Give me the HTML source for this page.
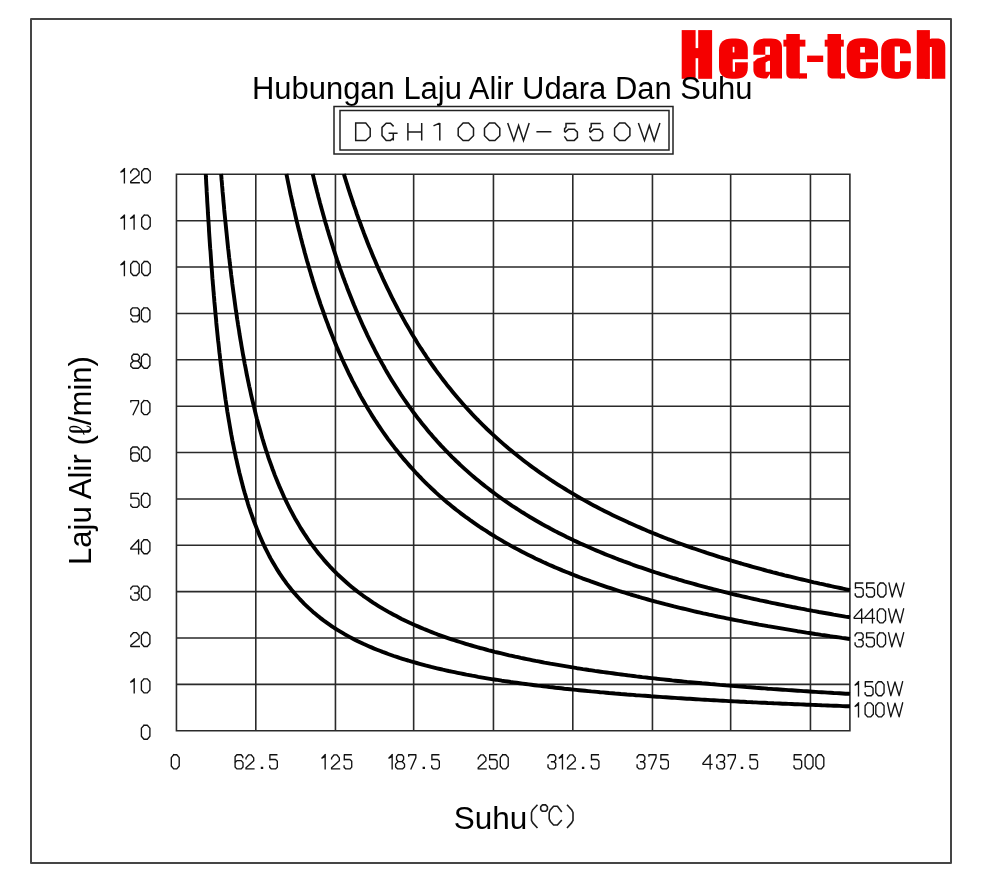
<!DOCTYPE html><html><head><meta charset="utf-8"><style>html,body{margin:0;padding:0;background:#fff;}svg{display:block;will-change:transform}</style></head><body><svg width="988" height="884" viewBox="0 0 988 884">
<rect width="988" height="884" fill="#fff"/>
<rect x="31" y="19" width="920" height="844" fill="none" stroke="#454545" stroke-width="2" stroke-linejoin="round"/>
<path d="M176.45,173.55V731.55M255.80,173.55V731.55M335.45,173.55V731.55M413.65,173.55V731.55M493.45,173.55V731.55M572.80,173.55V731.55M652.45,173.55V731.55M730.65,173.55V731.55M810.45,173.55V731.55M849.90,173.55V731.55M175.70,174.30H850.65M175.70,220.68H850.65M175.70,267.05H850.65M175.70,313.43H850.65M175.70,359.80H850.65M175.70,406.18H850.65M175.70,452.55H850.65M175.70,498.93H850.65M175.70,545.30H850.65M175.70,591.67H850.65M175.70,638.05H850.65M175.70,684.42H850.65M175.70,730.80H850.65" stroke="#2a2a2a" stroke-width="1.6" fill="none"/>
<g fill="none" stroke="#000" stroke-width="3.9" stroke-linejoin="round">
<path d="M205.8,174.0 L205.9,177.0 L206.1,180.0 L206.2,183.0 L206.4,185.9 L206.6,188.9 L206.7,191.9 L206.9,194.9 L207.1,197.9 L207.2,200.8 L207.4,203.8 L207.6,206.8 L207.8,209.8 L207.9,212.7 L208.1,215.7 L208.3,218.7 L208.5,221.7 L208.7,224.7 L208.9,227.6 L209.0,230.6 L209.2,233.6 L209.4,236.6 L209.6,239.5 L209.8,242.5 L210.0,245.5 L210.2,248.5 L210.5,251.4 L210.7,254.4 L210.9,257.4 L211.1,260.4 L211.3,263.3 L211.5,266.3 L211.8,269.3 L212.0,272.2 L212.2,275.2 L212.4,278.2 L212.7,281.2 L212.9,284.1 L213.2,287.1 L213.4,290.1 L213.7,293.0 L213.9,296.0 L214.2,299.0 L214.4,301.9 L214.7,304.9 L215.0,307.9 L215.2,310.8 L215.5,313.8 L215.8,316.8 L216.1,319.7 L216.3,322.7 L216.6,325.7 L216.9,328.6 L217.2,331.6 L217.5,334.6 L217.8,337.5 L218.1,340.5 L218.5,343.4 L218.8,346.4 L219.1,349.4 L219.4,352.3 L219.8,355.3 L220.1,358.2 L220.5,361.2 L220.8,364.1 L221.2,367.1 L221.5,370.1 L221.9,373.0 L222.3,376.0 L222.7,378.9 L223.1,381.9 L223.5,384.8 L223.9,387.8 L224.3,390.7 L224.7,393.6 L225.1,396.6 L225.5,399.5 L226.0,402.5 L226.4,405.4 L226.9,408.4 L227.3,411.3 L227.8,414.2 L228.3,417.2 L228.8,420.1 L229.3,423.0 L229.8,426.0 L230.3,428.9 L230.8,431.8 L231.3,434.7 L231.9,437.7 L232.4,440.6 L233.0,443.5 L233.6,446.4 L234.2,449.3 L234.8,452.2 L235.4,455.1 L236.0,458.0 L236.7,460.9 L237.3,463.8 L238.0,466.7 L238.7,469.6 L239.3,472.5 L240.1,475.4 L240.8,478.3 L241.5,481.1 L242.3,484.0 L243.0,486.9 L243.8,489.7 L244.6,492.6 L245.5,495.4 L246.3,498.3 L247.2,501.1 L248.0,504.0 L248.9,506.8 L249.9,509.6 L250.8,512.4 L251.8,515.2 L252.8,518.0 L253.8,520.8 L254.8,523.6 L255.9,526.3 L257.0,529.1 L258.1,531.8 L259.2,534.6 L260.4,537.3 L261.6,540.0 L262.8,542.7 L264.0,545.4 L265.3,548.1 L266.6,550.7 L268.0,553.4 L269.3,556.0 L270.7,558.6 L272.2,561.2 L273.7,563.8 L275.2,566.3 L276.7,568.9 L278.3,571.4 L279.9,573.9 L281.6,576.3 L283.3,578.8 L285.0,581.2 L286.7,583.6 L288.5,585.9 L290.4,588.3 L292.2,590.6 L294.2,592.9 L296.1,595.1 L298.1,597.3 L300.1,599.5 L302.2,601.6 L304.3,603.8 L306.4,605.8 L308.6,607.9 L310.8,609.9 L313.0,611.9 L315.3,613.8 L317.6,615.7 L319.9,617.6 L322.2,619.4 L324.6,621.2 L327.0,622.9 L329.5,624.6 L331.9,626.3 L334.4,628.0 L337.0,629.6 L339.5,631.1 L342.1,632.7 L344.6,634.2 L347.2,635.6 L349.9,637.1 L352.5,638.5 L355.2,639.9 L357.8,641.2 L360.5,642.5 L363.2,643.8 L366.0,645.0 L368.7,646.2 L371.4,647.4 L374.2,648.6 L377.0,649.7 L379.8,650.8 L382.6,651.9 L385.4,652.9 L388.2,654.0 L391.0,655.0 L393.8,656.0 L396.7,656.9 L399.5,657.9 L402.4,658.8 L405.2,659.7 L408.1,660.5 L411.0,661.4 L413.8,662.2 L416.7,663.0 L419.6,663.8 L422.5,664.6 L425.4,665.4 L428.3,666.1 L431.2,666.9 L434.1,667.6 L437.0,668.3 L440.0,669.0 L442.9,669.7 L445.8,670.3 L448.7,671.0 L451.7,671.6 L454.6,672.2 L457.5,672.8 L460.5,673.4 L463.4,674.0 L466.4,674.6 L469.3,675.1 L472.2,675.7 L475.2,676.2 L478.2,676.8 L481.1,677.3 L484.1,677.8 L487.0,678.3 L490.0,678.8 L492.9,679.3 L495.9,679.7 L498.9,680.2 L501.8,680.7 L504.8,681.1 L507.8,681.5 L510.7,682.0 L513.7,682.4 L516.7,682.8 L519.6,683.2 L522.6,683.6 L525.6,684.0 L528.6,684.4 L531.5,684.8 L534.5,685.2 L537.5,685.6 L540.5,685.9 L543.4,686.3 L546.4,686.6 L549.4,687.0 L552.4,687.3 L555.4,687.7 L558.3,688.0 L561.3,688.3 L564.3,688.7 L567.3,689.0 L570.3,689.3 L573.3,689.6 L576.2,689.9 L579.2,690.2 L582.2,690.5 L585.2,690.8 L588.2,691.1 L591.2,691.4 L594.2,691.6 L597.1,691.9 L600.1,692.2 L603.1,692.4 L606.1,692.7 L609.1,693.0 L612.1,693.2 L615.1,693.5 L618.1,693.7 L621.0,694.0 L624.0,694.2 L627.0,694.5 L630.0,694.7 L633.0,694.9 L636.0,695.2 L639.0,695.4 L642.0,695.6 L645.0,695.8 L648.0,696.0 L651.0,696.3 L654.0,696.5 L656.9,696.7 L659.9,696.9 L662.9,697.1 L665.9,697.3 L668.9,697.5 L671.9,697.7 L674.9,697.9 L677.9,698.1 L680.9,698.3 L683.9,698.5 L686.9,698.7 L689.9,698.8 L692.9,699.0 L695.9,699.2 L698.9,699.4 L701.9,699.6 L704.8,699.7 L707.8,699.9 L710.8,700.1 L713.8,700.2 L716.8,700.4 L719.8,700.6 L722.8,700.7 L725.8,700.9 L728.8,701.1 L731.8,701.2 L734.8,701.4 L737.8,701.5 L740.8,701.7 L743.8,701.8 L746.8,702.0 L749.8,702.1 L752.8,702.3 L755.8,702.4 L758.8,702.6 L761.8,702.7 L764.8,702.8 L767.8,703.0 L770.8,703.1 L773.8,703.3 L776.8,703.4 L779.7,703.5 L782.7,703.7 L785.7,703.8 L788.7,703.9 L791.7,704.0 L794.7,704.2 L797.7,704.3 L800.7,704.4 L803.7,704.5 L806.7,704.7 L809.7,704.8 L812.7,704.9 L815.7,705.0 L818.7,705.1 L821.7,705.3 L824.7,705.4 L827.7,705.5 L830.7,705.6 L833.7,705.7 L836.7,705.8 L839.7,705.9 L842.7,706.1 L845.7,706.2 L848.7,706.3 L850.0,706.3"/>
<path d="M221.1,174.0 L221.4,177.0 L221.6,180.0 L221.9,182.9 L222.1,185.9 L222.4,188.9 L222.6,191.9 L222.9,194.8 L223.2,197.8 L223.4,200.8 L223.7,203.7 L224.0,206.7 L224.2,209.7 L224.5,212.7 L224.8,215.6 L225.1,218.6 L225.4,221.6 L225.7,224.5 L226.0,227.5 L226.3,230.5 L226.6,233.4 L226.9,236.4 L227.2,239.4 L227.5,242.3 L227.8,245.3 L228.1,248.3 L228.5,251.2 L228.8,254.2 L229.1,257.2 L229.5,260.1 L229.8,263.1 L230.2,266.0 L230.5,269.0 L230.9,272.0 L231.2,274.9 L231.6,277.9 L232.0,280.8 L232.3,283.8 L232.7,286.7 L233.1,289.7 L233.5,292.7 L233.9,295.6 L234.3,298.6 L234.7,301.5 L235.1,304.5 L235.5,307.4 L235.9,310.4 L236.4,313.3 L236.8,316.3 L237.2,319.2 L237.7,322.2 L238.1,325.1 L238.6,328.0 L239.1,331.0 L239.5,333.9 L240.0,336.9 L240.5,339.8 L241.0,342.7 L241.5,345.7 L242.0,348.6 L242.5,351.5 L243.0,354.5 L243.6,357.4 L244.1,360.3 L244.6,363.3 L245.2,366.2 L245.8,369.1 L246.3,372.0 L246.9,375.0 L247.5,377.9 L248.1,380.8 L248.7,383.7 L249.3,386.6 L250.0,389.5 L250.6,392.4 L251.2,395.3 L251.9,398.2 L252.6,401.1 L253.3,404.0 L254.0,406.9 L254.7,409.8 L255.4,412.7 L256.1,415.6 L256.8,418.5 L257.6,421.3 L258.4,424.2 L259.2,427.1 L260.0,429.9 L260.8,432.8 L261.6,435.7 L262.4,438.5 L263.3,441.4 L264.1,444.2 L265.0,447.0 L265.9,449.9 L266.9,452.7 L267.8,455.5 L268.7,458.3 L269.7,461.1 L270.7,463.9 L271.7,466.7 L272.7,469.5 L273.8,472.3 L274.8,475.1 L275.9,477.9 L277.0,480.6 L278.2,483.4 L279.3,486.1 L280.5,488.8 L281.7,491.6 L282.9,494.3 L284.1,497.0 L285.4,499.7 L286.7,502.3 L288.0,505.0 L289.3,507.7 L290.7,510.3 L292.1,512.9 L293.5,515.6 L294.9,518.2 L296.4,520.7 L297.9,523.3 L299.4,525.9 L300.9,528.4 L302.5,530.9 L304.1,533.4 L305.8,535.9 L307.4,538.4 L309.1,540.8 L310.8,543.3 L312.6,545.7 L314.4,548.0 L316.2,550.4 L318.0,552.7 L319.9,555.1 L321.8,557.3 L323.7,559.6 L325.7,561.9 L327.7,564.1 L329.7,566.3 L331.7,568.4 L333.8,570.6 L335.9,572.7 L338.0,574.8 L340.2,576.8 L342.4,578.8 L344.6,580.8 L346.8,582.8 L349.1,584.8 L351.4,586.7 L353.7,588.6 L356.0,590.4 L358.4,592.2 L360.8,594.0 L363.2,595.8 L365.6,597.5 L368.1,599.2 L370.5,600.9 L373.0,602.6 L375.5,604.2 L378.1,605.8 L380.6,607.3 L383.2,608.9 L385.8,610.4 L388.4,611.9 L391.0,613.3 L393.6,614.7 L396.3,616.1 L398.9,617.5 L401.6,618.9 L404.3,620.2 L407.0,621.5 L409.7,622.8 L412.4,624.0 L415.1,625.2 L417.9,626.4 L420.6,627.6 L423.4,628.8 L426.2,629.9 L428.9,631.0 L431.7,632.1 L434.5,633.2 L437.3,634.3 L440.1,635.3 L443.0,636.3 L445.8,637.3 L448.6,638.3 L451.5,639.3 L454.3,640.2 L457.1,641.1 L460.0,642.0 L462.9,642.9 L465.7,643.8 L468.6,644.7 L471.5,645.5 L474.4,646.3 L477.2,647.2 L480.1,648.0 L483.0,648.7 L485.9,649.5 L488.8,650.3 L491.7,651.0 L494.6,651.8 L497.5,652.5 L500.5,653.2 L503.4,653.9 L506.3,654.6 L509.2,655.3 L512.1,655.9 L515.1,656.6 L518.0,657.2 L520.9,657.9 L523.9,658.5 L526.8,659.1 L529.7,659.7 L532.7,660.3 L535.6,660.9 L538.6,661.4 L541.5,662.0 L544.4,662.6 L547.4,663.1 L550.3,663.7 L553.3,664.2 L556.3,664.7 L559.2,665.2 L562.2,665.7 L565.1,666.2 L568.1,666.7 L571.0,667.2 L574.0,667.7 L577.0,668.2 L579.9,668.6 L582.9,669.1 L585.9,669.5 L588.8,670.0 L591.8,670.4 L594.8,670.9 L597.7,671.3 L600.7,671.7 L603.7,672.1 L606.6,672.5 L609.6,672.9 L612.6,673.3 L615.6,673.7 L618.5,674.1 L621.5,674.5 L624.5,674.9 L627.5,675.3 L630.4,675.6 L633.4,676.0 L636.4,676.4 L639.4,676.7 L642.3,677.1 L645.3,677.4 L648.3,677.8 L651.3,678.1 L654.3,678.4 L657.2,678.8 L660.2,679.1 L663.2,679.4 L666.2,679.7 L669.2,680.0 L672.2,680.4 L675.1,680.7 L678.1,681.0 L681.1,681.3 L684.1,681.6 L687.1,681.9 L690.1,682.1 L693.1,682.4 L696.0,682.7 L699.0,683.0 L702.0,683.3 L705.0,683.5 L708.0,683.8 L711.0,684.1 L714.0,684.3 L717.0,684.6 L719.9,684.9 L722.9,685.1 L725.9,685.4 L728.9,685.6 L731.9,685.9 L734.9,686.1 L737.9,686.4 L740.9,686.6 L743.9,686.8 L746.9,687.1 L749.8,687.3 L752.8,687.5 L755.8,687.8 L758.8,688.0 L761.8,688.2 L764.8,688.4 L767.8,688.7 L770.8,688.9 L773.8,689.1 L776.8,689.3 L779.8,689.5 L782.8,689.7 L785.7,689.9 L788.7,690.1 L791.7,690.3 L794.7,690.5 L797.7,690.7 L800.7,690.9 L803.7,691.1 L806.7,691.3 L809.7,691.5 L812.7,691.7 L815.7,691.9 L818.7,692.1 L821.7,692.2 L824.7,692.4 L827.7,692.6 L830.7,692.8 L833.7,693.0 L836.6,693.1 L839.6,693.3 L842.6,693.5 L845.6,693.7 L848.6,693.8 L850.0,693.9"/>
<path d="M286.4,174.0 L287.0,176.9 L287.6,179.9 L288.2,182.8 L288.8,185.7 L289.4,188.6 L290.0,191.6 L290.6,194.5 L291.3,197.4 L291.9,200.3 L292.6,203.2 L293.2,206.1 L293.9,209.0 L294.6,211.9 L295.2,214.8 L295.9,217.8 L296.6,220.7 L297.3,223.6 L298.0,226.5 L298.7,229.4 L299.5,232.2 L300.2,235.1 L300.9,238.0 L301.7,240.9 L302.4,243.8 L303.2,246.7 L304.0,249.6 L304.7,252.5 L305.5,255.3 L306.3,258.2 L307.1,261.1 L308.0,263.9 L308.8,266.8 L309.6,269.7 L310.5,272.5 L311.3,275.4 L312.2,278.2 L313.0,281.1 L313.9,283.9 L314.8,286.8 L315.7,289.6 L316.6,292.5 L317.6,295.3 L318.5,298.1 L319.5,301.0 L320.4,303.8 L321.4,306.6 L322.4,309.4 L323.4,312.2 L324.4,315.0 L325.4,317.9 L326.4,320.6 L327.5,323.4 L328.5,326.2 L329.6,329.0 L330.7,331.8 L331.8,334.6 L332.9,337.3 L334.0,340.1 L335.1,342.9 L336.3,345.6 L337.4,348.4 L338.6,351.1 L339.8,353.8 L341.0,356.6 L342.2,359.3 L343.5,362.0 L344.7,364.7 L346.0,367.4 L347.3,370.1 L348.5,372.8 L349.9,375.5 L351.2,378.1 L352.5,380.8 L353.9,383.4 L355.3,386.1 L356.7,388.7 L358.1,391.4 L359.5,394.0 L360.9,396.6 L362.4,399.2 L363.9,401.8 L365.4,404.4 L366.9,406.9 L368.4,409.5 L370.0,412.0 L371.5,414.6 L373.1,417.1 L374.7,419.6 L376.4,422.1 L378.0,424.6 L379.7,427.1 L381.3,429.5 L383.0,432.0 L384.7,434.4 L386.5,436.9 L388.2,439.3 L390.0,441.7 L391.8,444.1 L393.6,446.4 L395.4,448.8 L397.3,451.1 L399.2,453.5 L401.0,455.8 L402.9,458.1 L404.9,460.4 L406.8,462.6 L408.8,464.9 L410.8,467.1 L412.8,469.3 L414.8,471.5 L416.8,473.7 L418.9,475.9 L421.0,478.0 L423.0,480.2 L425.2,482.3 L427.3,484.4 L429.4,486.4 L431.6,488.5 L433.8,490.5 L436.0,492.6 L438.2,494.6 L440.4,496.6 L442.7,498.5 L444.9,500.5 L447.2,502.4 L449.5,504.3 L451.8,506.2 L454.2,508.1 L456.5,510.0 L458.9,511.8 L461.2,513.6 L463.6,515.4 L466.0,517.2 L468.5,518.9 L470.9,520.7 L473.3,522.4 L475.8,524.1 L478.3,525.8 L480.7,527.5 L483.2,529.1 L485.8,530.7 L488.3,532.4 L490.8,534.0 L493.4,535.5 L495.9,537.1 L498.5,538.6 L501.1,540.1 L503.6,541.7 L506.2,543.1 L508.9,544.6 L511.5,546.1 L514.1,547.5 L516.7,548.9 L519.4,550.3 L522.0,551.7 L524.7,553.1 L527.4,554.4 L530.1,555.7 L532.8,557.1 L535.4,558.4 L538.2,559.7 L540.9,560.9 L543.6,562.2 L546.3,563.4 L549.0,564.7 L551.8,565.9 L554.5,567.1 L557.3,568.2 L560.0,569.4 L562.8,570.6 L565.6,571.7 L568.4,572.8 L571.1,573.9 L573.9,575.0 L576.7,576.1 L579.5,577.2 L582.3,578.3 L585.1,579.3 L588.0,580.3 L590.8,581.4 L593.6,582.4 L596.4,583.4 L599.2,584.4 L602.1,585.3 L604.9,586.3 L607.8,587.3 L610.6,588.2 L613.5,589.1 L616.3,590.0 L619.2,591.0 L622.0,591.9 L624.9,592.7 L627.8,593.6 L630.6,594.5 L633.5,595.3 L636.4,596.2 L639.3,597.0 L642.1,597.9 L645.0,598.7 L647.9,599.5 L650.8,600.3 L653.7,601.1 L656.6,601.9 L659.5,602.6 L662.4,603.4 L665.3,604.2 L668.2,604.9 L671.1,605.6 L674.0,606.4 L676.9,607.1 L679.8,607.8 L682.7,608.5 L685.7,609.2 L688.6,609.9 L691.5,610.6 L694.4,611.3 L697.3,612.0 L700.3,612.6 L703.2,613.3 L706.1,613.9 L709.1,614.6 L712.0,615.2 L714.9,615.8 L717.8,616.5 L720.8,617.1 L723.7,617.7 L726.7,618.3 L729.6,618.9 L732.5,619.5 L735.5,620.1 L738.4,620.7 L741.4,621.2 L744.3,621.8 L747.3,622.4 L750.2,622.9 L753.2,623.5 L756.1,624.0 L759.0,624.6 L762.0,625.1 L765.0,625.6 L767.9,626.2 L770.9,626.7 L773.8,627.2 L776.8,627.7 L779.7,628.2 L782.7,628.7 L785.6,629.2 L788.6,629.7 L791.6,630.2 L794.5,630.7 L797.5,631.2 L800.4,631.6 L803.4,632.1 L806.4,632.6 L809.3,633.0 L812.3,633.5 L815.3,634.0 L818.2,634.4 L821.2,634.9 L824.2,635.3 L827.1,635.7 L830.1,636.2 L833.1,636.6 L836.0,637.0 L839.0,637.4 L842.0,637.9 L844.9,638.3 L847.9,638.7 L850.0,639.0"/>
<path d="M312.7,174.0 L313.4,176.9 L314.1,179.8 L314.8,182.7 L315.5,185.6 L316.3,188.5 L317.0,191.4 L317.8,194.3 L318.5,197.2 L319.3,200.1 L320.0,202.9 L320.8,205.8 L321.6,208.7 L322.4,211.6 L323.2,214.5 L324.0,217.3 L324.8,220.2 L325.6,223.1 L326.5,225.9 L327.3,228.8 L328.2,231.7 L329.0,234.5 L329.9,237.4 L330.8,240.2 L331.7,243.1 L332.6,245.9 L333.5,248.8 L334.4,251.6 L335.3,254.4 L336.3,257.3 L337.2,260.1 L338.2,262.9 L339.2,265.7 L340.1,268.6 L341.1,271.4 L342.1,274.2 L343.1,277.0 L344.2,279.8 L345.2,282.6 L346.3,285.4 L347.3,288.2 L348.4,291.0 L349.5,293.7 L350.6,296.5 L351.7,299.3 L352.8,302.0 L353.9,304.8 L355.1,307.6 L356.2,310.3 L357.4,313.1 L358.6,315.8 L359.8,318.5 L361.0,321.3 L362.2,324.0 L363.4,326.7 L364.7,329.4 L366.0,332.1 L367.2,334.8 L368.5,337.5 L369.8,340.2 L371.2,342.8 L372.5,345.5 L373.9,348.2 L375.2,350.8 L376.6,353.5 L378.0,356.1 L379.4,358.7 L380.9,361.3 L382.3,363.9 L383.8,366.5 L385.2,369.1 L386.7,371.7 L388.2,374.3 L389.8,376.9 L391.3,379.4 L392.9,382.0 L394.5,384.5 L396.1,387.0 L397.7,389.5 L399.3,392.0 L400.9,394.5 L402.6,397.0 L404.3,399.5 L406.0,401.9 L407.7,404.4 L409.4,406.8 L411.2,409.2 L412.9,411.6 L414.7,414.0 L416.5,416.4 L418.3,418.8 L420.2,421.1 L422.0,423.5 L423.9,425.8 L425.8,428.1 L427.7,430.4 L429.6,432.7 L431.6,434.9 L433.5,437.2 L435.5,439.4 L437.5,441.7 L439.5,443.9 L441.5,446.1 L443.6,448.2 L445.6,450.4 L447.7,452.5 L449.8,454.7 L451.9,456.8 L454.1,458.9 L456.2,461.0 L458.4,463.0 L460.5,465.1 L462.7,467.1 L464.9,469.1 L467.2,471.1 L469.4,473.1 L471.7,475.1 L473.9,477.0 L476.2,478.9 L478.5,480.8 L480.8,482.7 L483.2,484.6 L485.5,486.5 L487.9,488.3 L490.2,490.1 L492.6,491.9 L495.0,493.7 L497.4,495.5 L499.9,497.3 L502.3,499.0 L504.7,500.7 L507.2,502.4 L509.7,504.1 L512.2,505.8 L514.7,507.4 L517.2,509.0 L519.7,510.7 L522.2,512.3 L524.8,513.8 L527.3,515.4 L529.9,517.0 L532.5,518.5 L535.0,520.0 L537.6,521.5 L540.2,523.0 L542.8,524.5 L545.5,525.9 L548.1,527.3 L550.7,528.8 L553.4,530.2 L556.0,531.6 L558.7,532.9 L561.4,534.3 L564.0,535.6 L566.7,537.0 L569.4,538.3 L572.1,539.6 L574.8,540.9 L577.5,542.1 L580.3,543.4 L583.0,544.6 L585.7,545.8 L588.5,547.1 L591.2,548.3 L594.0,549.5 L596.7,550.6 L599.5,551.8 L602.2,552.9 L605.0,554.1 L607.8,555.2 L610.6,556.3 L613.4,557.4 L616.2,558.5 L619.0,559.6 L621.8,560.6 L624.6,561.7 L627.4,562.7 L630.2,563.7 L633.0,564.8 L635.8,565.8 L638.7,566.8 L641.5,567.7 L644.3,568.7 L647.2,569.7 L650.0,570.6 L652.9,571.6 L655.7,572.5 L658.6,573.4 L661.4,574.3 L664.3,575.2 L667.2,576.1 L670.0,577.0 L672.9,577.9 L675.8,578.7 L678.6,579.6 L681.5,580.4 L684.4,581.3 L687.3,582.1 L690.2,582.9 L693.0,583.7 L695.9,584.5 L698.8,585.3 L701.7,586.1 L704.6,586.9 L707.5,587.7 L710.4,588.4 L713.3,589.2 L716.2,589.9 L719.1,590.7 L722.0,591.4 L724.9,592.1 L727.9,592.8 L730.8,593.6 L733.7,594.3 L736.6,595.0 L739.5,595.6 L742.4,596.3 L745.4,597.0 L748.3,597.7 L751.2,598.3 L754.1,599.0 L757.1,599.6 L760.0,600.3 L762.9,600.9 L765.9,601.5 L768.8,602.2 L771.7,602.8 L774.7,603.4 L777.6,604.0 L780.5,604.6 L783.5,605.2 L786.4,605.8 L789.4,606.4 L792.3,607.0 L795.3,607.5 L798.2,608.1 L801.1,608.7 L804.1,609.2 L807.0,609.8 L810.0,610.3 L812.9,610.9 L815.9,611.4 L818.8,612.0 L821.8,612.5 L824.7,613.0 L827.7,613.5 L830.7,614.0 L833.6,614.6 L836.6,615.1 L839.5,615.6 L842.5,616.1 L845.4,616.6 L848.4,617.0 L850.0,617.3"/>
<path d="M343.9,174.0 L344.7,176.9 L345.6,179.7 L346.5,182.6 L347.4,185.4 L348.3,188.3 L349.2,191.1 L350.1,194.0 L351.1,196.8 L352.0,199.6 L353.0,202.5 L353.9,205.3 L354.9,208.1 L355.9,210.9 L356.8,213.8 L357.8,216.6 L358.8,219.4 L359.9,222.2 L360.9,225.0 L361.9,227.8 L363.0,230.6 L364.0,233.4 L365.1,236.2 L366.2,239.0 L367.2,241.7 L368.3,244.5 L369.4,247.3 L370.6,250.0 L371.7,252.8 L372.8,255.6 L374.0,258.3 L375.2,261.1 L376.3,263.8 L377.5,266.6 L378.7,269.3 L379.9,272.0 L381.2,274.7 L382.4,277.5 L383.6,280.2 L384.9,282.9 L386.2,285.6 L387.5,288.3 L388.8,290.9 L390.1,293.6 L391.4,296.3 L392.7,299.0 L394.1,301.6 L395.5,304.3 L396.8,306.9 L398.2,309.6 L399.6,312.2 L401.1,314.8 L402.5,317.4 L404.0,320.1 L405.4,322.7 L406.9,325.3 L408.4,327.8 L409.9,330.4 L411.4,333.0 L412.9,335.5 L414.5,338.1 L416.1,340.6 L417.6,343.2 L419.2,345.7 L420.8,348.2 L422.5,350.7 L424.1,353.2 L425.8,355.7 L427.4,358.2 L429.1,360.6 L430.8,363.1 L432.5,365.5 L434.3,368.0 L436.0,370.4 L437.8,372.8 L439.6,375.2 L441.4,377.6 L443.2,380.0 L445.0,382.3 L446.8,384.7 L448.7,387.0 L450.6,389.3 L452.5,391.7 L454.4,394.0 L456.3,396.3 L458.2,398.5 L460.2,400.8 L462.1,403.0 L464.1,405.3 L466.1,407.5 L468.1,409.7 L470.2,411.9 L472.2,414.1 L474.3,416.3 L476.3,418.4 L478.4,420.5 L480.5,422.7 L482.7,424.8 L484.8,426.9 L486.9,429.0 L489.1,431.0 L491.3,433.1 L493.5,435.1 L495.7,437.1 L497.9,439.1 L500.1,441.1 L502.4,443.1 L504.6,445.1 L506.9,447.0 L509.2,448.9 L511.5,450.8 L513.8,452.7 L516.1,454.6 L518.5,456.5 L520.8,458.3 L523.2,460.2 L525.5,462.0 L527.9,463.8 L530.3,465.6 L532.7,467.4 L535.2,469.1 L537.6,470.9 L540.0,472.6 L542.5,474.3 L545.0,476.0 L547.4,477.7 L549.9,479.3 L552.4,481.0 L554.9,482.6 L557.5,484.3 L560.0,485.9 L562.5,487.4 L565.1,489.0 L567.6,490.6 L570.2,492.1 L572.8,493.7 L575.3,495.2 L577.9,496.7 L580.5,498.2 L583.1,499.6 L585.8,501.1 L588.4,502.5 L591.0,504.0 L593.7,505.4 L596.3,506.8 L599.0,508.2 L601.6,509.6 L604.3,510.9 L607.0,512.3 L609.6,513.6 L612.3,514.9 L615.0,516.2 L617.7,517.5 L620.4,518.8 L623.2,520.1 L625.9,521.3 L628.6,522.6 L631.3,523.8 L634.1,525.0 L636.8,526.2 L639.6,527.4 L642.3,528.6 L645.1,529.8 L647.8,531.0 L650.6,532.1 L653.4,533.2 L656.2,534.4 L658.9,535.5 L661.7,536.6 L664.5,537.7 L667.3,538.8 L670.1,539.8 L672.9,540.9 L675.7,542.0 L678.5,543.0 L681.3,544.0 L684.2,545.1 L687.0,546.1 L689.8,547.1 L692.6,548.1 L695.5,549.0 L698.3,550.0 L701.2,551.0 L704.0,551.9 L706.8,552.9 L709.7,553.8 L712.5,554.7 L715.4,555.6 L718.3,556.6 L721.1,557.5 L724.0,558.3 L726.8,559.2 L729.7,560.1 L732.6,561.0 L735.5,561.8 L738.3,562.7 L741.2,563.5 L744.1,564.4 L747.0,565.2 L749.9,566.0 L752.7,566.8 L755.6,567.6 L758.5,568.4 L761.4,569.2 L764.3,570.0 L767.2,570.8 L770.1,571.5 L773.0,572.3 L775.9,573.0 L778.8,573.8 L781.7,574.5 L784.6,575.3 L787.5,576.0 L790.5,576.7 L793.4,577.4 L796.3,578.1 L799.2,578.8 L802.1,579.5 L805.0,580.2 L808.0,580.9 L810.9,581.6 L813.8,582.3 L816.7,582.9 L819.6,583.6 L822.6,584.2 L825.5,584.9 L828.4,585.5 L831.4,586.2 L834.3,586.8 L837.2,587.4 L840.2,588.0 L843.1,588.7 L846.0,589.3 L849.0,589.9 L850.0,590.1"/>
</g>
<g fill="#f50000"><rect x="681.7" y="30.1" width="13.9" height="48.7"/><rect x="698.2" y="30.1" width="13.9" height="48.7"/><rect x="695" y="48.1" width="4.0" height="10.1"/><path d="M732.0,38.4 H735.8 C743.7,38.4 747.8,42.1 747.8,49.4 V67.7 C747.8,75.0 743.7,78.7 735.8,78.7 H732.0 C723.4,78.7 719,74.6 719,66.7 V50.4 C719,42.5 723.4,38.4 732.0,38.4Z"/><path d="M766.4,38.4 H771.0 C778.3,38.4 782,41.5 782,47.4 V78.6 H764.4 C757.1,78.6 753.4,75.5 753.4,69.6 V49.4 C753.4,42.1 757.8,38.4 766.4,38.4Z"/><path d="M786.3,34.1 H799.8 V78.6 H792.3 C788.0,78.6 786.3,76.9 786.3,72.6 V34.1Z"/><rect x="783.4" y="39.7" width="22.0" height="6.9"/><rect x="799" y="73.3" width="8.0" height="5.3"/><rect x="807.1" y="55.6" width="16.1" height="6.4"/><path d="M827.5,34.1 H841.0 V78.6 H833.5 C829.2,78.6 827.5,76.9 827.5,72.6 V34.1Z"/><rect x="824.7" y="39.7" width="19.1" height="6.9"/><rect x="840" y="73.3" width="5.1" height="5.3"/><path d="M860.7,38.3 H865.0 C873.6,38.3 878,42.0 878,49.3 V67.6 C878,74.9 873.6,78.6 865.0,78.6 H860.7 C851.5,78.6 846.7,74.5 846.7,66.6 V50.3 C846.7,42.4 851.5,38.3 860.7,38.3Z"/><path d="M895.2,38.4 H897.8 C906.4,38.4 910.8,42.1 910.8,49.4 V67.8 C910.8,75.1 906.4,78.8 897.8,78.8 H895.2 C886.0,78.8 881.2,74.7 881.2,66.8 V50.4 C881.2,42.5 886.0,38.4 895.2,38.4Z"/><rect x="916.8" y="30.1" width="13.1" height="48.7"/><path d="M934.0,38.4 H936.3 C942.8,38.4 945.3,40.9 945.3,47.4 V78.8 H925.0 V46.4 C925,40.6 927.5,38.4 934.0,38.4Z"/></g>
<g fill="#fff"><rect x="732.7" y="46.8" width="1.7" height="5.6"/><path d="M732.7,59.2 H735.0 V70.7 C735.0,71.4 734.7,71.7 734.0,71.7 H733.7 C733.0,71.7 732.7,71.4 732.7,70.7 V59.2Z"/><rect x="734.9" y="59.2" width="14.1" height="3.1"/><rect x="860.2" y="46.9" width="4.7" height="5.7"/><path d="M860.2,59.2 H865.8 V70.5 C865.8,71.6 865.4,72 864.3,72 H861.7 C860.6,72 860.2,71.6 860.2,70.5 V59.2Z"/><rect x="865.7" y="59.2" width="13.8" height="3.3"/><rect x="765.3" y="46.6" width="4.7" height="8.2"/><path d="M752,54.8 L765.3,54.8 L765.3,56.3 L757.4,58.5 L754.3,61.4 L752,61.4Z"/><path d="M765.6,62.5 L768.5,60.7 L770,60.7 L770,71.7 L765.6,71.7Z"/><path d="M766.2,79.5 L770,73.9 L770,79.5Z"/><path d="M894.7,46.6 H900.0 V70.1 C900,71.5 899.4,72.1 898.0,72.1 H896.7 C895.3,72.1 894.7,71.5 894.7,70.1 V46.6Z"/><rect x="899.9" y="53.3" width="12.1" height="7.9"/><rect x="929.9" y="47" width="1.9" height="33.0"/></g>
<text x="252" y="99" font-family="Liberation Sans" font-size="31" textLength="500.5" lengthAdjust="spacingAndGlyphs" fill="#000">Hubungan Laju Alir Udara Dan Suhu</text>
<text transform="translate(91.2,565) rotate(-90)" x="0" y="0" font-family="Liberation Sans" font-size="31" textLength="209" lengthAdjust="spacingAndGlyphs" fill="#000">Laju Alir (ℓ/min)</text>
<text x="453.7" y="828.9" font-family="Liberation Sans" font-size="31" textLength="73.6" lengthAdjust="spacingAndGlyphs" fill="#000">Suhu</text>
<path d="M537.5,804.8 L532.8,809.7 L531.5,812.5 V820.4 L532.8,822.9 L537.5,828 M567,804.8 L571.6,809.7 L573,812.5 V820.4 L571.6,822.9 L567,828 M561.8,811.9 L557.4,806.2 H553.6 L550.3,810 L549.2,812.8 V818.8 L550.6,821.8 L553.6,825 H557.4 L561.8,819.9 M542.5,804.9 H545.6 L547.4,806.7 V809.6 L545.6,811.3 H542.5 L540.7,809.6 V806.7 Z" fill="none" stroke="#1c1c1c" stroke-width="1.6" stroke-linejoin="round"/>
<rect x="334" y="106.5" width="339" height="47.5" fill="none" stroke="#222" stroke-width="1.5"/>
<rect x="340" y="110.5" width="329" height="39.5" fill="none" stroke="#222" stroke-width="1.5"/>
<path d="M355.7,123.1 H365.8 L370.2,128.4 V136.5 L365.8,140.5 H355.7 Z M393.6,126.4 L390.5,123.3 H386.2 L382,127.4 V135.6 L386.2,140.4 H390.5 L393.3,138 M388.6,133.3 H397.6 M393.3,133.3 V140.6 M407.9,123.1 V140.5 M421.7,123.1 V140.5 M407.9,132 H421.7 M433.5,125.9 L439.6,123.1 M439.8,123.1 V140.5 M463.1,123.1 H468.6 L473.5,128.3 V135.8 L468.6,140.6 H463.1 L458.2,135.8 V128.3 Z M489.4,123.1 H494.9 L499.8,128.3 V135.8 L494.9,140.6 H489.4 L484.5,135.8 V128.3 Z M507.7,123.1 L513.8,140.5 L518.6,125.4 L523.5,140.5 L529.2,123.1 M536.4,131.8 H551.4 M575.6,123.4 H566.0 V127.2 L564.6,128.6 V131.6 L565.4,132 L568.5,129.2 H574.3 L577.4,132.1 V137.4 L574.3,140.4 H567.2 L564.4,136.4  M600.8,123.4 H591.2 V127.2 L589.8,128.6 V131.6 L590.6,132 L593.7,129.2 H599.5 L602.6,132.1 V137.4 L599.5,140.4 H592.4 L589.6,136.4  M619.5,123.1 H625.0 L629.9,128.3 V135.8 L625.0,140.6 H619.5 L614.6,135.8 V128.3 Z M638.4,123.1 L644.5,140.5 L649.3,125.4 L654.2,140.5 L659.9,123.1" fill="none" stroke="#1a1a1a" stroke-width="1.5" stroke-linejoin="miter"/>
<path d="M173.72,754.70 L176.79,754.70 L179.20,757.64 L179.20,765.96 L176.79,768.90 L173.72,768.90 L171.30,765.96 L171.30,757.64 L173.72,754.70 M242.82,757.64 L242.82,756.76 L241.14,754.70 L236.87,754.70 L235.10,756.76 L235.10,766.94 L236.87,768.90 L241.24,768.90 L243.00,766.94 L243.00,762.63 L241.24,760.67 L236.87,760.67 L235.10,762.63 M246.00,758.81 L246.00,757.83 L248.60,754.80 L251.12,754.80 L253.72,757.83 L253.72,760.77 L246.00,767.63 L246.00,768.90 L253.91,768.90 M276.77,754.70 L269.89,754.70 L269.89,759.89 M269.89,759.50 L275.56,759.50 L277.33,761.26 L277.33,767.14 L275.56,768.90 L271.37,768.90 L269.70,767.24 L269.70,765.86 M322.00,758.03 L325.16,754.80 M325.16,754.70 L325.16,768.90 M331.60,758.81 L331.60,757.83 L334.20,754.80 L336.71,754.80 L339.32,757.83 L339.32,760.77 L331.60,767.63 L331.60,768.90 L339.50,768.90 M351.17,754.70 L344.29,754.70 L344.29,759.89 M344.29,759.50 L349.96,759.50 L351.73,761.26 L351.73,767.14 L349.96,768.90 L345.77,768.90 L344.10,767.24 L344.10,765.86 M389.00,758.03 L392.16,754.80 M392.16,754.70 L392.16,768.90 M398.20,754.70 L401.92,754.70 L403.60,756.66 L403.60,759.50 L401.92,761.56 L398.20,761.56 L396.53,759.50 L396.53,756.66 L398.20,754.70 M398.02,761.56 L402.11,761.56 L404.53,764.10 L404.53,766.94 L402.48,768.90 L397.65,768.90 L395.60,766.94 L395.60,764.10 L398.02,761.56 M408.70,756.07 L408.70,754.70 L415.86,754.70 L415.86,757.64 L410.93,768.90 M438.77,754.70 L431.89,754.70 L431.89,759.89 M431.89,759.50 L437.56,759.50 L439.33,761.26 L439.33,767.14 L437.56,768.90 L433.37,768.90 L431.70,767.24 L431.70,765.86 M478.20,758.81 L478.20,757.83 L480.80,754.80 L483.31,754.80 L485.92,757.83 L485.92,760.77 L478.20,767.63 L478.20,768.90 L486.10,768.90 M496.57,754.70 L489.69,754.70 L489.69,759.89 M489.69,759.50 L495.36,759.50 L497.13,761.26 L497.13,767.14 L495.36,768.90 L491.17,768.90 L489.50,767.24 L489.50,765.86 M502.72,754.70 L505.79,754.70 L508.20,757.64 L508.20,765.96 L505.79,768.90 L502.72,768.90 L500.30,765.96 L500.30,757.64 L502.72,754.70 M548.00,757.83 L548.00,756.95 L549.86,754.70 L554.04,754.70 L555.72,756.66 L555.72,759.79 L554.04,761.75 L551.53,761.75 M554.04,761.75 L555.72,763.51 L555.72,766.94 L554.04,768.90 L549.86,768.90 L548.00,766.94 L548.00,764.98 M559.30,758.03 L562.46,754.80 M562.46,754.70 L562.46,768.90 M567.50,758.81 L567.50,757.83 L570.10,754.80 L572.62,754.80 L575.22,757.83 L575.22,760.77 L567.50,767.63 L567.50,768.90 L575.40,768.90 M598.37,754.70 L591.49,754.70 L591.49,759.89 M591.49,759.50 L597.16,759.50 L598.93,761.26 L598.93,767.14 L597.16,768.90 L592.97,768.90 L591.30,767.24 L591.30,765.86 M637.10,757.83 L637.10,756.95 L638.96,754.70 L643.14,754.70 L644.82,756.66 L644.82,759.79 L643.14,761.75 L640.63,761.75 M643.14,761.75 L644.82,763.51 L644.82,766.94 L643.14,768.90 L638.96,768.90 L637.10,766.94 L637.10,764.98 M648.90,756.07 L648.90,754.70 L656.06,754.70 L656.06,757.64 L651.13,768.90 M667.77,754.70 L660.89,754.70 L660.89,759.89 M660.89,759.50 L666.56,759.50 L668.33,761.26 L668.33,767.14 L666.56,768.90 L662.37,768.90 L660.70,767.24 L660.70,765.86 M710.15,768.90 L710.15,754.70 L702.90,763.32 L702.90,764.30 L711.92,764.30 M716.80,757.83 L716.80,756.95 L718.66,754.70 L722.85,754.70 L724.52,756.66 L724.52,759.79 L722.85,761.75 L720.33,761.75 M722.85,761.75 L724.52,763.51 L724.52,766.94 L722.85,768.90 L718.66,768.90 L716.80,766.94 L716.80,764.98 M728.20,756.07 L728.20,754.70 L735.36,754.70 L735.36,757.64 L730.43,768.90 M756.97,754.70 L750.09,754.70 L750.09,759.89 M750.09,759.50 L755.76,759.50 L757.53,761.26 L757.53,767.14 L755.76,768.90 L751.57,768.90 L749.90,767.24 L749.90,765.86 M801.07,754.70 L794.19,754.70 L794.19,759.89 M794.19,759.50 L799.86,759.50 L801.63,761.26 L801.63,767.14 L799.86,768.90 L795.67,768.90 L794.00,767.24 L794.00,765.86 M807.52,754.70 L810.59,754.70 L813.00,757.64 L813.00,765.96 L810.59,768.90 L807.52,768.90 L805.10,765.96 L805.10,757.64 L807.52,754.70 M818.32,754.70 L821.39,754.70 L823.81,757.64 L823.81,765.96 L821.39,768.90 L818.32,768.90 L815.90,765.96 L815.90,757.64 L818.32,754.70 M121.00,171.98 L124.40,168.80 M124.40,168.70 L124.40,182.70 M130.70,172.76 L130.70,171.79 L133.50,168.80 L136.20,168.80 L139.00,171.79 L139.00,174.69 L130.70,181.44 L130.70,182.70 L139.20,182.70 M144.30,168.70 L147.60,168.70 L150.20,171.60 L150.20,179.80 L147.60,182.70 L144.30,182.70 L141.70,179.80 L141.70,171.60 L144.30,168.70 M121.00,218.36 L124.40,215.17 M124.40,215.07 L124.40,229.07 M130.70,218.36 L134.10,215.17 M134.10,215.07 L134.10,229.07 M144.30,215.07 L147.60,215.07 L150.20,217.97 L150.20,226.18 L147.60,229.07 L144.30,229.07 L141.70,226.18 L141.70,217.97 L144.30,215.07 M121.00,264.73 L124.40,261.55 M124.40,261.45 L124.40,275.45 M133.30,261.45 L136.60,261.45 L139.20,264.35 L139.20,272.55 L136.60,275.45 L133.30,275.45 L130.70,272.55 L130.70,264.35 L133.30,261.45 M144.30,261.45 L147.60,261.45 L150.20,264.35 L150.20,272.55 L147.60,275.45 L144.30,275.45 L141.70,272.55 L141.70,264.35 L144.30,261.45 M131.00,318.93 L131.00,319.80 L132.80,321.82 L137.40,321.82 L139.30,319.80 L139.30,309.76 L137.40,307.82 L132.70,307.82 L130.80,309.76 L130.80,314.00 L132.70,315.94 L137.40,315.94 L139.30,314.00 M144.00,307.82 L147.30,307.82 L149.90,310.72 L149.90,318.93 L147.30,321.82 L144.00,321.82 L141.40,318.93 L141.40,310.72 L144.00,307.82 M133.60,354.20 L137.60,354.20 L139.40,356.13 L139.40,358.93 L137.60,360.96 L133.60,360.96 L131.80,358.93 L131.80,356.13 L133.60,354.20 M133.40,360.96 L137.80,360.96 L140.40,363.47 L140.40,366.27 L138.20,368.20 L133.00,368.20 L130.80,366.27 L130.80,363.47 L133.40,360.96 M144.00,354.20 L147.30,354.20 L149.90,357.10 L149.90,365.30 L147.30,368.20 L144.00,368.20 L141.40,365.30 L141.40,357.10 L144.00,354.20 M130.80,401.93 L130.80,400.57 L138.50,400.57 L138.50,403.47 L133.20,414.57 M144.00,400.57 L147.30,400.57 L149.90,403.47 L149.90,411.68 L147.30,414.57 L144.00,414.57 L141.40,411.68 L141.40,403.47 L144.00,400.57 M139.10,449.85 L139.10,448.98 L137.30,446.95 L132.70,446.95 L130.80,448.98 L130.80,459.02 L132.70,460.95 L137.40,460.95 L139.30,459.02 L139.30,454.77 L137.40,452.84 L132.70,452.84 L130.80,454.77 M144.00,446.95 L147.30,446.95 L149.90,449.85 L149.90,458.05 L147.30,460.95 L144.00,460.95 L141.40,458.05 L141.40,449.85 L144.00,446.95 M138.40,493.32 L131.00,493.32 L131.00,498.44 M131.00,498.06 L137.10,498.06 L139.00,499.79 L139.00,505.59 L137.10,507.32 L132.60,507.32 L130.80,505.68 L130.80,504.33 M144.00,493.32 L147.30,493.32 L149.90,496.22 L149.90,504.43 L147.30,507.32 L144.00,507.32 L141.40,504.43 L141.40,496.22 L144.00,493.32 M138.60,553.70 L138.60,539.70 L130.80,548.20 L130.80,549.16 L140.50,549.16 M144.00,539.70 L147.30,539.70 L149.90,542.60 L149.90,550.80 L147.30,553.70 L144.00,553.70 L141.40,550.80 L141.40,542.60 L144.00,539.70 M130.80,589.16 L130.80,588.30 L132.80,586.08 L137.30,586.08 L139.10,588.01 L139.10,591.10 L137.30,593.03 L134.60,593.03 M137.30,593.03 L139.10,594.76 L139.10,598.14 L137.30,600.08 L132.80,600.08 L130.80,598.14 L130.80,596.21 M144.00,586.08 L147.30,586.08 L149.90,588.97 L149.90,597.18 L147.30,600.08 L144.00,600.08 L141.40,597.18 L141.40,588.97 L144.00,586.08 M130.80,636.51 L130.80,635.54 L133.60,632.55 L136.30,632.55 L139.10,635.54 L139.10,638.44 L130.80,645.19 L130.80,646.45 L139.30,646.45 M144.00,632.45 L147.30,632.45 L149.90,635.35 L149.90,643.55 L147.30,646.45 L144.00,646.45 L141.40,643.55 L141.40,635.35 L144.00,632.45 M130.80,682.11 L134.20,678.92 M134.20,678.83 L134.20,692.83 M144.00,678.83 L147.30,678.83 L149.90,681.72 L149.90,689.93 L147.30,692.83 L144.00,692.83 L141.40,689.93 L141.40,681.72 L144.00,678.83 M144.00,725.20 L147.30,725.20 L149.90,728.10 L149.90,736.30 L147.30,739.20 L144.00,739.20 L141.40,736.30 L141.40,728.10 L144.00,725.20 M862.62,582.95 L855.44,582.95 L855.44,588.07 M855.44,587.68 L861.36,587.68 L863.20,589.42 L863.20,595.21 L861.36,596.95 L857.00,596.95 L855.25,595.31 L855.25,593.96 M873.87,582.95 L866.69,582.95 L866.69,588.07 M866.69,587.68 L872.61,587.68 L874.45,589.42 L874.45,595.21 L872.61,596.95 L868.25,596.95 L866.50,595.31 L866.50,593.96 M880.22,582.95 L883.42,582.95 L885.95,585.85 L885.95,594.05 L883.42,596.95 L880.22,596.95 L877.70,594.05 L877.70,585.85 L880.22,582.95 M888.95,582.95 L892.15,596.95 L896.32,583.24 L900.49,596.95 L903.99,582.95 M861.67,622.90 L861.67,608.90 L854.10,617.40 L854.10,618.36 L863.51,618.36 M872.47,622.90 L872.47,608.90 L864.90,617.40 L864.90,618.36 L874.31,618.36 M879.82,608.90 L883.02,608.90 L885.55,611.80 L885.55,620.00 L883.02,622.90 L879.82,622.90 L877.30,620.00 L877.30,611.80 L879.82,608.90 M888.60,608.90 L891.80,622.90 L895.97,609.19 L900.14,622.90 L903.63,608.90 M855.10,635.89 L855.10,635.02 L857.04,632.80 L861.40,632.80 L863.15,634.73 L863.15,637.82 L861.40,639.75 L858.79,639.75 M861.40,639.75 L863.15,641.49 L863.15,644.87 L861.40,646.80 L857.04,646.80 L855.10,644.87 L855.10,642.94 M873.77,632.80 L866.59,632.80 L866.59,637.92 M866.59,637.53 L872.51,637.53 L874.35,639.27 L874.35,645.06 L872.51,646.80 L868.15,646.80 L866.40,645.16 L866.40,643.81 M879.82,632.80 L883.02,632.80 L885.55,635.70 L885.55,643.90 L883.02,646.80 L879.82,646.80 L877.30,643.90 L877.30,635.70 L879.82,632.80 M888.60,632.80 L891.80,646.80 L895.97,633.09 L900.14,646.80 L903.63,632.80 M855.20,684.98 L858.50,681.80 M858.50,681.70 L858.50,695.70 M872.47,681.70 L865.29,681.70 L865.29,686.82 M865.29,686.43 L871.21,686.43 L873.05,688.17 L873.05,693.96 L871.21,695.70 L866.85,695.70 L865.10,694.06 L865.10,692.71 M878.32,681.70 L881.52,681.70 L884.05,684.60 L884.05,692.80 L881.52,695.70 L878.32,695.70 L875.80,692.80 L875.80,684.60 L878.32,681.70 M887.60,681.70 L890.80,695.70 L894.97,681.99 L899.14,695.70 L902.63,681.70 M855.20,706.18 L858.50,703.00 M858.50,702.90 L858.50,716.90 M867.62,702.90 L870.82,702.90 L873.35,705.80 L873.35,714.00 L870.82,716.90 L867.62,716.90 L865.10,714.00 L865.10,705.80 L867.62,702.90 M878.32,702.90 L881.52,702.90 L884.05,705.80 L884.05,714.00 L881.52,716.90 L878.32,716.90 L875.80,714.00 L875.80,705.80 L878.32,702.90 M887.60,702.90 L890.80,716.90 L894.97,703.19 L899.14,716.90 L902.63,702.90" fill="none" stroke="#111" stroke-width="1.35" stroke-linejoin="round" stroke-linecap="square"/>
<path d="M260.80,766.75 L263.20,766.75 L263.20,769.10 L260.80,769.10Z M322.00,758.13 L325.16,754.70 L325.16,757.54 L323.12,758.23Z M389.00,758.13 L392.16,754.70 L392.16,757.54 L390.12,758.23Z M422.60,766.75 L425.00,766.75 L425.00,769.10 L422.60,769.10Z M559.30,758.13 L562.46,754.70 L562.46,757.54 L560.42,758.23Z M581.90,766.75 L584.30,766.75 L584.30,769.10 L581.90,769.10Z M740.80,766.75 L743.20,766.75 L743.20,769.10 L740.80,769.10Z M121.00,172.08 L124.40,168.70 L124.40,171.50 L122.20,172.18Z M121.00,218.45 L124.40,215.07 L124.40,217.88 L122.20,218.55Z M130.70,218.45 L134.10,215.07 L134.10,217.88 L131.90,218.55Z M121.00,264.83 L124.40,261.45 L124.40,264.25 L122.20,264.93Z M130.80,682.20 L134.20,678.83 L134.20,681.62 L132.00,682.30Z M855.20,685.08 L858.50,681.70 L858.50,684.50 L856.36,685.18Z M855.20,706.28 L858.50,702.90 L858.50,705.70 L856.36,706.38Z" fill="#111"/>
</svg></body></html>
